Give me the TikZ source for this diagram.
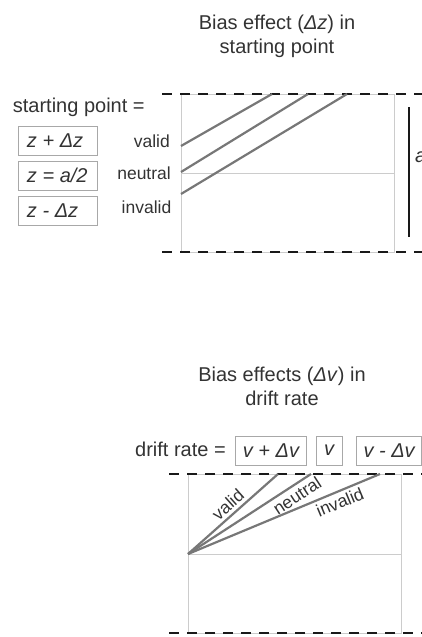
\documentclass[tikz,border=0pt]{standalone}
\usepackage{fontspec}
\setmainfont{Liberation Sans}
\definecolor{txtc}{HTML}{333333}
\definecolor{framec}{HTML}{CCCCCC}
\definecolor{boxc}{HTML}{A8A8A8}
\definecolor{accc}{HTML}{777777}
\newcommand{\zfill}[1]{\makebox[61pt][l]{#1}}
\begin{document}
\begin{tikzpicture}[x=1pt,y=-1pt,
  lbl/.style={text=txtc, inner sep=0pt, font=\fontsize{17.5}{21}\selectfont},
  slbl/.style={text=txtc, inner sep=3pt, font=\fontsize{17.5}{21}\selectfont, sloped},
  big/.style={text=txtc, inner sep=0pt, font=\fontsize{20}{24}\selectfont},
  eqbox/.style={draw=boxc, line width=1pt, text=txtc, font=\fontsize{20}{24}\selectfont\itshape,
    minimum height=29pt, inner ysep=0pt},
  zbox/.style={eqbox, minimum width=79pt, inner xsep=0pt},
  vbox/.style={eqbox, inner xsep=7pt},
  bound/.style={draw=black!90, line width=2pt, dash pattern=on 10pt off 8pt},
  frame/.style={draw=framec, line width=0.9pt},
  accum/.style={draw=accc, line width=2.2pt},
  bar/.style={draw=black!90, line width=2.5pt}]
\useasboundingbox (0,0) rectangle (422,637);

% ---------- top panel ----------
\node[big, align=center] (t1) at (277,36) {Bias effect (\textit{Δz}) in\\starting point};
\node[big, anchor=base west] (sp) at (12.7,112) {starting point =};
\node[zbox] (z1) at (57.5,140.5) {\zfill{z + Δz}};
\node[zbox] (z2) at (57.5,175.5) {\zfill{z = a/2}};
\node[zbox] (z3) at (57.5,210.5) {\zfill{z - Δz}};

\node[lbl, anchor=base east] (lv) at (170,147) {valid};
\node[lbl, anchor=base east] (ln) at (171,179) {neutral};
\node[lbl, anchor=base east] (li) at (171.5,213) {invalid};

\coordinate (ftl) at (181,94);
\coordinate (fbr) at (394,252);
\draw[frame] (ftl) rectangle (fbr);
\coordinate (nl0) at (181,173);
\coordinate (nl1) at (394,173);
\draw[frame] (nl0) -- (nl1);

\coordinate (dt0) at (162,94);
\coordinate (dt1) at (440,94);
\coordinate (db0) at (162,252);
\coordinate (db1) at (440,252);
\draw[bound] (dt0) -- (dt1);
\draw[bound] (db0) -- (db1);

\coordinate (a0) at (409,107);
\coordinate (a1) at (409,237);
\draw[bar] (a0) -- (a1);
\node[big, anchor=west, font=\fontsize{20}{24}\selectfont\itshape] (alab) at (415,157) {a};

\coordinate (sv0) at (181,146);
\coordinate (sv1) at (272,94);
\coordinate (sn0) at (181,172);
\coordinate (sn1) at (308,94);
\coordinate (si0) at (181,194);
\coordinate (si1) at (347,94);
\draw[accum] (sv0) -- (sv1);
\draw[accum] (sn0) -- (sn1);
\draw[accum] (si0) -- (si1);

% ---------- bottom panel ----------
\node[big, align=center] (t2) at (282,386) {Bias effects (\textit{Δv}) in\\drift rate};
\node[big, anchor=base west] (dr) at (135,456.5) {drift rate =};
\node[vbox] (v1) at (271,450.5) {v + Δv};
\node[vbox, minimum width=26pt, inner xsep=0pt] (v2) at (329,450.5) {v};
\node[vbox, anchor=west] (v3) at (356,450.5) {v - Δv};

\coordinate (gtl) at (188,474);
\coordinate (gbr) at (401,633);
\draw[frame] (gtl) rectangle (gbr);
\coordinate (gm0) at (188,554);
\coordinate (gm1) at (401,554);
\draw[frame] (gm0) -- (gm1);

\coordinate (et0) at (169,474);
\coordinate (et1) at (440,474);
\coordinate (eb0) at (169,633);
\coordinate (eb1) at (440,633);
\draw[bound] (et0) -- (et1);
\draw[bound] (eb0) -- (eb1);

\coordinate (o) at (188,554);
\coordinate (ev) at (278,474);
\coordinate (en) at (311,474);
\coordinate (ei) at (380,474);
\draw[accum] (o) -- node[slbl, above, pos=0.52] (lvv) {valid} (ev);
\draw[accum] (o) -- node[slbl, below, pos=0.84] (lnn) {neutral} (en);
\draw[accum] (o) -- node[slbl, below, pos=0.77] (lii) {invalid} (ei);
\end{tikzpicture}
\end{document}
